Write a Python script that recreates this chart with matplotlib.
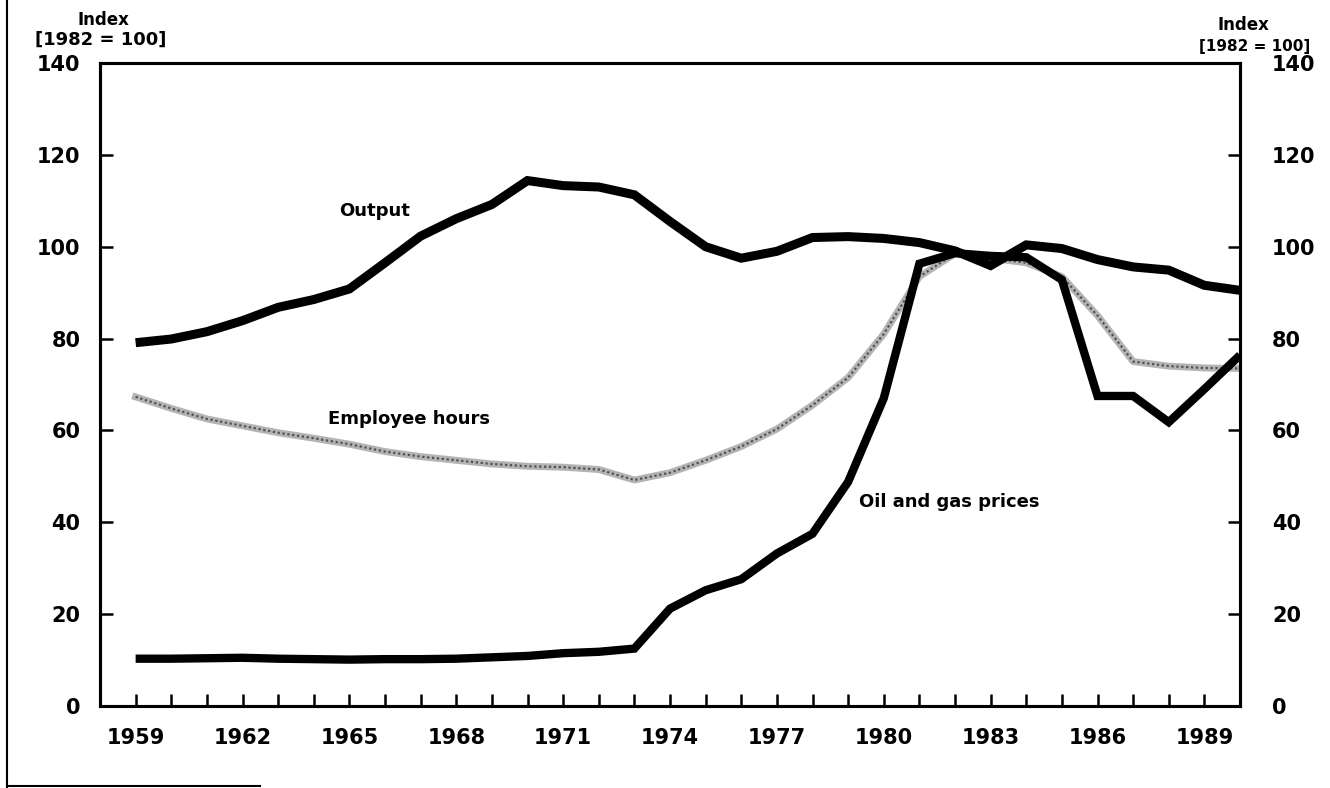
import numpy as np
import matplotlib.pyplot as plt
from matplotlib.lines import Line2D
from matplotlib.ticker import FixedLocator, FuncFormatter

years = list(range(1959, 1991))

output = [79.1, 79.9, 81.5, 83.9, 86.8, 88.5, 90.8, 96.5, 102.3, 106.1,
          109.2, 114.4, 113.3, 113.0, 111.3, 105.5, 100.0, 97.5, 99.0, 102.0,
          102.2, 101.8, 100.9, 99.1, 95.9, 100.4, 99.6, 97.2, 95.6, 94.9,
          91.6, 90.5]

employee_hours = [67.3, 64.8, 62.5, 61.0, 59.5, 58.3, 57.0, 55.4, 54.3, 53.5,
                  52.7, 52.2, 52.0, 51.5, 49.2, 50.8, 53.5, 56.5, 60.3, 65.5,
                  71.5, 81.0, 93.5, 98.5, 97.5, 96.5, 93.5, 85.0, 75.0, 74.0,
                  73.6, 73.5]

oil_gas = [10.3, 10.3, 10.4, 10.5, 10.3, 10.2, 10.1, 10.2, 10.2, 10.3,
           10.6, 10.9, 11.5, 11.8, 12.5, 21.2, 25.2, 27.6, 33.2, 37.5,
           48.8, 67.0, 96.3, 98.6, 98.0, 97.7, 92.8, 67.5, 67.5, 61.8,
           69.0, 76.4]

label_years = list(range(1959, 1990, 3))
y_ticks = [0, 20, 40, 60, 80, 100, 120, 140]

W, H = 1330, 788
fig = plt.figure(figsize=(W / 100, H / 100), dpi=100)
ax = fig.add_axes([100 / W, 1 - 706 / H, 1140 / W, 643 / H])

font = dict(family='DejaVu Sans', weight='bold')

# employee hours: stippled grey line
ax.plot(years, employee_hours, color='#b4b4b4', lw=5, solid_joinstyle='round')
ax.plot(years, employee_hours, color='#505050', lw=1.6, ls=(0, (1, 1.2)))
ax.plot(years, oil_gas, color='black', lw=6, solid_capstyle='butt',
        solid_joinstyle='miter')
ax.plot(years, output, color='black', lw=6.5, solid_capstyle='butt',
        solid_joinstyle='miter')

ax.set_xlim(1958, 1990)
ax.set_ylim(0, 140)

ax.xaxis.set_major_locator(FixedLocator(years))
ax.xaxis.set_major_formatter(FuncFormatter(
    lambda v, p: str(int(round(v))) if int(round(v)) in label_years else ''))
ax.set_yticks(y_ticks)

ax2 = ax.twinx()
ax2.set_ylim(0, 140)
ax2.set_yticks(y_ticks)

for a in (ax, ax2):
    for s in a.spines.values():
        s.set_linewidth(2.2)
    a.tick_params(direction='in', length=9, width=1.8, labelsize=15)
    for lab in a.get_xticklabels() + a.get_yticklabels():
        lab.set_fontweight('bold')
ax.tick_params(axis='y', pad=14)
ax.tick_params(axis='x', pad=16)
ax2.tick_params(axis='y', pad=23)

# axis titles
fig.text(103 / W, 1 - 20 / H, 'Index', ha='center', va='center', fontsize=12, **font)
fig.text(101 / W, 1 - 40 / H, '[1982 = 100]', ha='center', va='center', fontsize=13, **font)
fig.text(1243 / W, 1 - 25 / H, 'Index', ha='center', va='center', fontsize=12, **font)
fig.text(1255 / W, 1 - 47 / H, '[1982 = 100]', ha='center', va='center', fontsize=11, **font)

# series labels
ax.text(1965.7, 107.8, 'Output', ha='center', va='center', fontsize=13, **font)
ax.text(1964.4, 62.5, 'Employee hours', ha='left', va='center', fontsize=13, **font)
ax.text(1979.3, 44.5, 'Oil and gas prices', ha='left', va='center', fontsize=13, **font)

# remains of the page frame
fig.add_artist(Line2D([7 / W, 7 / W], [0, 1], color='black', lw=1.5))
fig.add_artist(Line2D([7 / W, 260 / W], [1 - 786 / H, 1 - 786 / H], color='black', lw=1.5))

fig.savefig('out.png', dpi=100)
